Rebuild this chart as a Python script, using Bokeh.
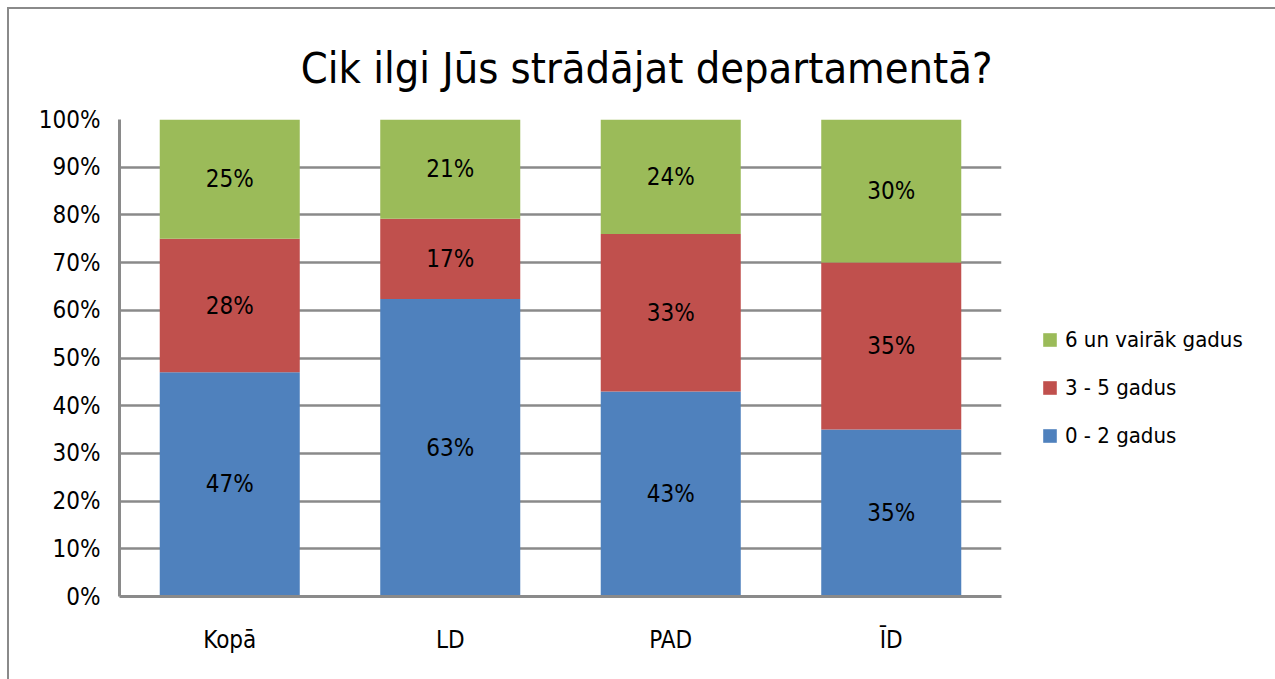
from bokeh.plotting import figure
from bokeh.models import ColumnDataSource, FactorRange, Legend, LegendItem, FixedTicker
from bokeh.embed import file_html
from bokeh.resources import INLINE
from bokeh.core.properties import value

categories = ["Kopā", "LD", "PAD", "ĪD"]
series_names = ["0 - 2 gadus", "3 - 5 gadus", "6 un vairāk gadus"]
s_0_2 = [47, 63, 43, 35]
s_3_5 = [28, 17, 33, 35]
s_6p = [25, 21, 24, 30]
y_ticks = [0, 10, 20, 30, 40, 50, 60, 70, 80, 90, 100]
colors = ["#4F81BD", "#C0504D", "#9BBB59"]
title_text = "Cik ilgi Jūs strādājat departamentā?"

FONT = "DejaVu Sans Condensed"

totals = [a + b + c for a, b, c in zip(s_0_2, s_3_5, s_6p)]
n0 = [a / t * 100 for a, t in zip(s_0_2, totals)]
n1 = [a / t * 100 for a, t in zip(s_3_5, totals)]
n2 = [a / t * 100 for a, t in zip(s_6p, totals)]

src = ColumnDataSource(dict(cat=categories, a=n0, b=n1, c=n2))

p = figure(x_range=FactorRange(*categories, range_padding=0), y_range=(0, 100),
           frame_width=882, frame_height=477, output_backend="svg", toolbar_location=None,
           min_border_left=110, min_border_top=110, min_border_bottom=83, min_border_right=272)
p.styles = {"margin-left": "7px", "margin-top": "7px",
            "border-left": "2px solid #8a8a8a", "border-top": "2px solid #8a8a8a"}
p.outline_line_color = None

rs = p.vbar_stack(["a", "b", "c"], x="cat", width=0.635, source=src, color=colors, line_color=None)

# data labels
lab_x, lab_y, lab_t = [], [], []
for i, cat in enumerate(categories):
    base = 0
    for vals, raw in ((n0, s_0_2), (n1, s_3_5), (n2, s_6p)):
        lab_x.append(cat)
        lab_y.append(base + vals[i] / 2)
        lab_t.append(f"{raw[i]}%")
        base += vals[i]
p.text(x=lab_x, y=lab_y, text=lab_t, text_align="center", text_baseline="middle",
       text_font=value(FONT), text_font_size="24px", text_color="black")

# axes
p.yaxis.ticker = FixedTicker(ticks=y_ticks)
p.yaxis.major_label_overrides = {v: f"{v}%" for v in y_ticks}
for ax in (p.xaxis[0], p.yaxis[0]):
    ax.axis_line_color = "#8a8a8a"
    ax.axis_line_width = 3
    ax.major_tick_line_color = None
    ax.minor_tick_line_color = None
    ax.major_label_text_font = FONT
    ax.major_label_text_font_size = "24px"
    ax.major_label_text_color = "black"
p.yaxis.major_label_standoff = 13
p.xaxis.major_label_standoff = 23

p.xgrid.grid_line_color = None
p.ygrid.grid_line_color = "#8a8a8a"
p.ygrid.grid_line_width = 2.5

# title
p.title.text = title_text
p.title.text_font = FONT
p.title.text_font_size = "43px"
p.title.text_font_style = "normal"
p.title.text_color = "black"
p.title.align = "right"
p.title.offset = 9
p.title.standoff = 54

legend = Legend(items=[LegendItem(label=series_names[2], renderers=[rs[2]]),
                       LegendItem(label=series_names[1], renderers=[rs[1]]),
                       LegendItem(label=series_names[0], renderers=[rs[0]])])
legend.label_text_font = FONT
legend.label_text_font_size = "22px"
legend.label_text_color = "black"
legend.glyph_width = 17
legend.glyph_height = 17
legend.label_height = 22
legend.spacing = 23
legend.label_standoff = 7
legend.margin = 0
legend.padding = 0
legend.border_line_color = None
legend.background_fill_alpha = 0
legend.location = (40, 148)
p.add_layout(legend, "right")

open("out.html", "w").write(file_html(p, INLINE))
